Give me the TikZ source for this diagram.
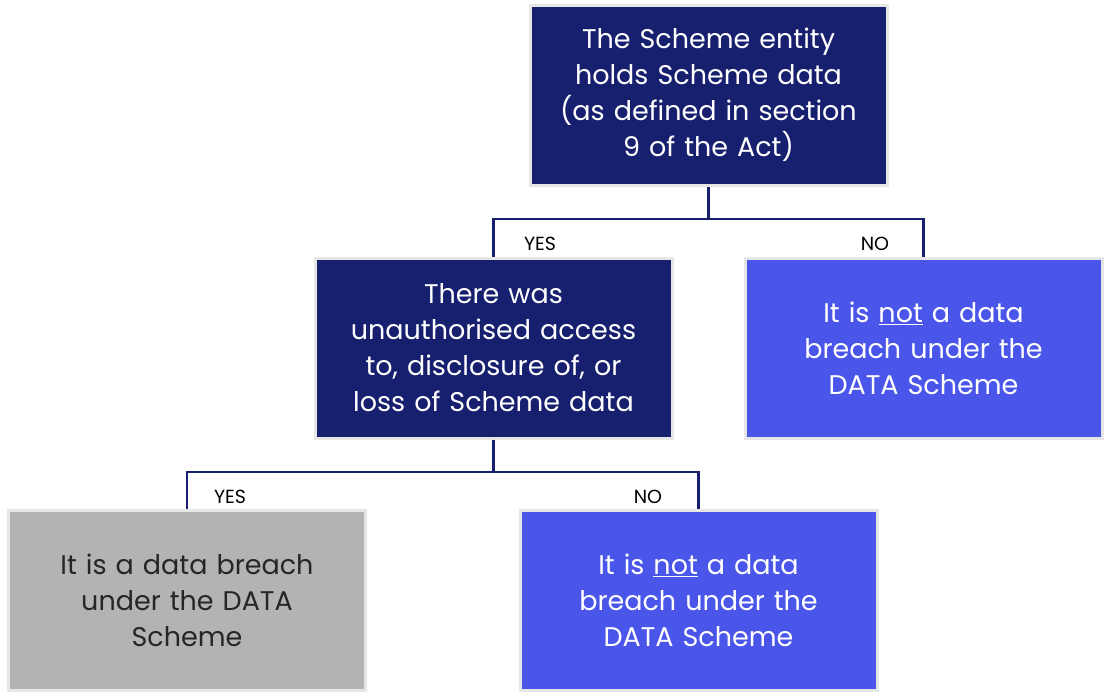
\documentclass[tikz,border=0pt]{standalone}
\usepackage{fontspec}
\setmainfont{Poppins}
\definecolor{navy}{HTML}{17206E}
\definecolor{blu}{HTML}{4A56EA}
\definecolor{gry}{HTML}{B3B3B3}
\definecolor{edge}{HTML}{E6E6E6}
\begin{document}
\begin{tikzpicture}[x=1pt,y=-1pt,
  box/.style={draw=edge,line width=3pt,minimum width=357pt,minimum height=180pt,align=center,text width=340pt,font=\fontsize{27}{36}\selectfont},
  dark/.style={box,fill=navy,text=white},
  light/.style={box,fill=blu,text=white},
  grey/.style={box,fill=gry,text=black!85},
  ln/.style={navy,line width=2.5pt},
  lab/.style={font=\fontsize{19}{22}\selectfont,text=black}]
\useasboundingbox (0,0) rectangle (1111,696);
\node[dark] (a) at (708.5,95) {The Scheme entity\\holds Scheme data\\(as defined in section\\9 of the Act)};
\node[dark] (b) at (493.5,348) {There was\\unauthorised access\\to, disclosure of, or\\loss of Scheme data};
\node[light] (c) at (923.5,348) {It is \underline{not} a data\\breach under the\\DATA Scheme};
\node[grey] (d) at (187,600) {It is a data breach\\under the DATA\\Scheme};
\node[light] (e) at (698.5,600) {It is \underline{not} a data\\breach under the\\DATA Scheme};
\coordinate (j1) at (708.5,219);
\coordinate (j2) at (493.5,472);
\draw[ln] (a.south) -- (j1);
\draw[ln] (b.north) -- (b.north |- j1) -- (c.north |- j1) -- (c.north);
\draw[ln] (b.south) -- (j2);
\draw[ln] (d.north) -- (d.north |- j2) -- (e.north |- j2) -- (e.north);
\node[lab] (y1) at (540,244) {YES};
\node[lab] (n1) at (875,244) {NO};
\node[lab] (y2) at (230,497) {YES};
\node[lab] (n2) at (648,497) {NO};
\end{tikzpicture}
\end{document}
